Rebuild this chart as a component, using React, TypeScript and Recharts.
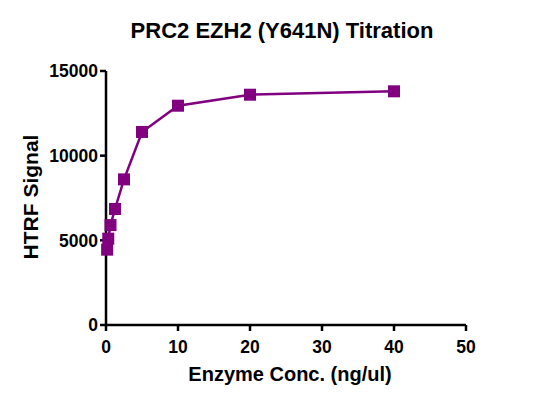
import React from "react";
import { LineChart, Line, XAxis, YAxis, Label } from "recharts";

const concentrations = [0.156, 0.3125, 0.625, 1.25, 2.5, 5, 10, 20, 40];
const htrfSignal = [4450, 5100, 5900, 6850, 8600, 11400, 12950, 13600, 13800];
const xTicks = [0, 10, 20, 30, 40, 50];
const yTicks = [0, 5000, 10000, 15000];

const data = concentrations.map((c, i) => ({ conc: c, signal: htrfSignal[i] }));

const PURPLE = "#800080";
const FONT = "'Liberation Sans', Arial, sans-serif";

const SquareDot = (props: any) => {
  const { cx, cy, index } = props;
  if (cx == null || cy == null) return null;
  return <rect key={index} x={cx - 6} y={cy - 6} width={12} height={12} fill={PURPLE} />;
};

const tickStyle = { fill: "#000", fontSize: 17.5, fontWeight: "bold", fontFamily: FONT };

export default function App() {
  return (
    <div style={{ position: "relative", width: 518, height: 388, fontFamily: FONT }}>
      <div
        style={{
          position: "absolute",
          left: 0,
          width: 548,
          top: 10,
          textAlign: "center",
          fontSize: 22,
          fontWeight: "bold",
          color: "#000",
        }}
      >
        PRC2 EZH2 (Y641N) Titration
      </div>
      <LineChart
        width={518}
        height={388}
        data={data}
        margin={{ top: 63, right: 60, left: 0, bottom: 0 }}
      >
        <XAxis
          type="number"
          dataKey="conc"
          domain={[0, 50]}
          ticks={xTicks}
          height={71}
          tick={tickStyle}
          tickSize={6}
          tickMargin={10}
          stroke="#000"
          strokeWidth={2.5}
          tickLine={{ stroke: "#000", strokeWidth: 2.5 }}
        >
          <Label
            content={({ viewBox }: any) => (
              <text
                x={viewBox.x + viewBox.width / 2 + 4}
                y={viewBox.y + 56}
                textAnchor="middle"
                fontSize={20}
                fontWeight="bold"
                fontFamily={FONT}
                fill="#000"
              >
                Enzyme Conc. (ng/ul)
              </text>
            )}
          />
        </XAxis>
        <YAxis
          type="number"
          domain={[0, 15000]}
          ticks={yTicks}
          width={98}
          tick={tickStyle}
          tickSize={6}
          tickMargin={2}
          stroke="#000"
          strokeWidth={2.5}
          tickLine={{ stroke: "#000", strokeWidth: 2.5 }}
        >
          <Label
            content={({ viewBox }: any) => {
              const cx = 22;
              const cy = viewBox.y + viewBox.height / 2 - 1;
              return (
                <text
                  x={cx}
                  y={cy}
                  transform={`rotate(-90 ${cx} ${cy})`}
                  textAnchor="middle"
                  dominantBaseline="central"
                  fontSize={21}
                  fontWeight="bold"
                  fontFamily={FONT}
                  fill="#000"
                >
                  HTRF Signal
                </text>
              );
            }}
          />
        </YAxis>
        <Line
          type="linear"
          dataKey="signal"
          stroke={PURPLE}
          strokeWidth={2.5}
          dot={<SquareDot />}
          activeDot={false}
          isAnimationActive={false}
        />
      </LineChart>
    </div>
  );
}
